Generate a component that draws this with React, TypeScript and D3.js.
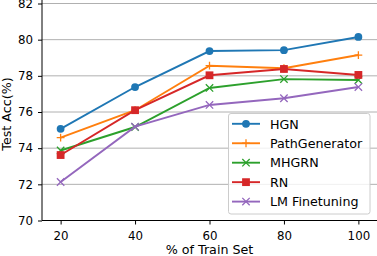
import { useEffect, useRef } from "react";
import * as d3 from "d3";

const trainPct = [20, 40, 60, 80, 100];
const hgn = [75.07, 77.38, 79.37, 79.42, 80.15];
const pathGen = [74.58, 76.1, 78.56, 78.42, 79.15];
const mhgrn = [73.87, 75.17, 77.33, 77.82, 77.77];
const rn = [73.62, 76.1, 78.03, 78.38, 78.05];
const lmFinetune = [72.13, 75.19, 76.39, 76.76, 77.38];
const yTicks = [70, 72, 74, 76, 78, 80, 82];

const seriesNames = ["HGN", "PathGenerator", "MHGRN", "RN", "LM Finetuning"];
const seriesValues = [hgn, pathGen, mhgrn, rn, lmFinetune];
const seriesColors = ["#1f77b4", "#ff7f0e", "#2ca02c", "#d62728", "#9467bd"];
const seriesMarkers = ["circle", "plus", "x", "square", "x"];

const W = 377;
const H = 256;
const FONT = "DejaVu Sans, sans-serif";
const TICK_FS = 11.8;
const LABEL_FS = 12.7;

function drawMarker(g: any, kind: string, cx: number, cy: number, color: string) {
  if (kind === "circle") {
    g.append("circle").attr("cx", cx).attr("cy", cy).attr("r", 3.9).attr("fill", color);
  } else if (kind === "square") {
    g.append("rect").attr("x", cx - 3.9).attr("y", cy - 3.9).attr("width", 7.8).attr("height", 7.8).attr("fill", color);
  } else if (kind === "plus") {
    const s = 3.9;
    g.append("path")
      .attr("d", `M${cx - s},${cy}H${cx + s}M${cx},${cy - s}V${cy + s}`)
      .attr("stroke", color)
      .attr("stroke-width", 1.3);
  } else {
    const s = 3.7;
    g.append("path")
      .attr("d", `M${cx - s},${cy - s}L${cx + s},${cy + s}M${cx - s},${cy + s}L${cx + s},${cy - s}`)
      .attr("stroke", color)
      .attr("stroke-width", 1.3);
  }
}

export default function App() {
  const svgRef = useRef<SVGSVGElement>(null);

  useEffect(() => {
    const svg = d3.select(svgRef.current);
    svg.selectAll("*").remove();

    const x = d3.scaleLinear().domain([15, 105]).range([42, 377]);
    const y = d3.scaleLinear().domain([70, 82]).range([220.5, 3.5]);

    // grid
    svg.append("g")
      .selectAll("line")
      .data(yTicks)
      .join("line")
      .attr("x1", 42)
      .attr("x2", W)
      .attr("y1", (d) => y(d))
      .attr("y2", (d) => y(d))
      .attr("stroke", "#b0b0b0")
      .attr("stroke-width", 1);

    // axes
    const xAxis = d3.axisBottom(x).tickValues(trainPct).tickSize(4).tickPadding(6.8).tickFormat(d3.format("d"));
    const yAxis = d3.axisLeft(y).tickValues(yTicks).tickSize(4).tickPadding(5).tickFormat(d3.format("d"));

    const gx = svg.append("g").attr("transform", `translate(0,${y(70)})`).call(xAxis);
    const gy = svg.append("g").attr("transform", `translate(${x(15)},0)`).call(yAxis);
    [gx, gy].forEach((g) => {
      g.select(".domain").remove();
      g.selectAll("line").attr("stroke", "#000").attr("stroke-width", 1);
      g.selectAll("text").attr("font-family", FONT).attr("font-size", TICK_FS).attr("fill", "#000");
    });
    // spines
    svg.append("line").attr("x1", 42).attr("x2", 42).attr("y1", 0).attr("y2", y(70))
      .attr("stroke", "#000").attr("stroke-width", 1);
    svg.append("line").attr("x1", 42).attr("x2", W).attr("y1", y(70)).attr("y2", y(70))
      .attr("stroke", "#000").attr("stroke-width", 1);

    // labels
    svg.append("text")
      .attr("x", (42 + W) / 2)
      .attr("y", 253.5)
      .attr("text-anchor", "middle")
      .attr("font-family", FONT)
      .attr("font-size", LABEL_FS)
      .text("% of Train Set");
    svg.append("text")
      .attr("transform", `translate(11,114) rotate(-90)`)
      .attr("text-anchor", "middle")
      .attr("font-family", FONT)
      .attr("font-size", LABEL_FS)
      .text("Test Acc(%)");

    // lines
    const line = d3.line<number>()
      .x((_, i) => x(trainPct[i]))
      .y((d) => y(d));

    seriesValues.forEach((vals, si) => {
      const color = seriesColors[si];
      const g = svg.append("g");
      g.append("path")
        .datum(vals)
        .attr("fill", "none")
        .attr("stroke", color)
        .attr("stroke-width", 1.9)
        .attr("d", line);
      vals.forEach((v, i) => drawMarker(g, seriesMarkers[si], x(trainPct[i]), y(v), color));
    });

    // legend
    const lg = svg.append("g");
    lg.append("rect")
      .attr("x", 228.5)
      .attr("y", 113.5)
      .attr("width", 141.5)
      .attr("height", 100.5)
      .attr("rx", 2.5)
      .attr("fill", "#fff")
      .attr("fill-opacity", 0.8)
      .attr("stroke", "#cccccc")
      .attr("stroke-width", 1);
    seriesNames.forEach((name, i) => {
      const cy = 123.8 + i * 19.45;
      const color = seriesColors[i];
      lg.append("line")
        .attr("x1", 232)
        .attr("x2", 260)
        .attr("y1", cy)
        .attr("y2", cy)
        .attr("stroke", color)
        .attr("stroke-width", 1.9);
      drawMarker(lg, seriesMarkers[i], 246, cy, color);
      lg.append("text")
        .attr("x", 270)
        .attr("y", cy + 4.7)
        .attr("font-family", FONT)
        .attr("font-size", LABEL_FS)
        .text(name);
    });
  }, []);

  return (
    <div style={{ position: "absolute", left: 0, top: 0 }}>
      <svg ref={svgRef} width={W} height={H} style={{ display: "block", background: "#fff" }} />
    </div>
  );
}
